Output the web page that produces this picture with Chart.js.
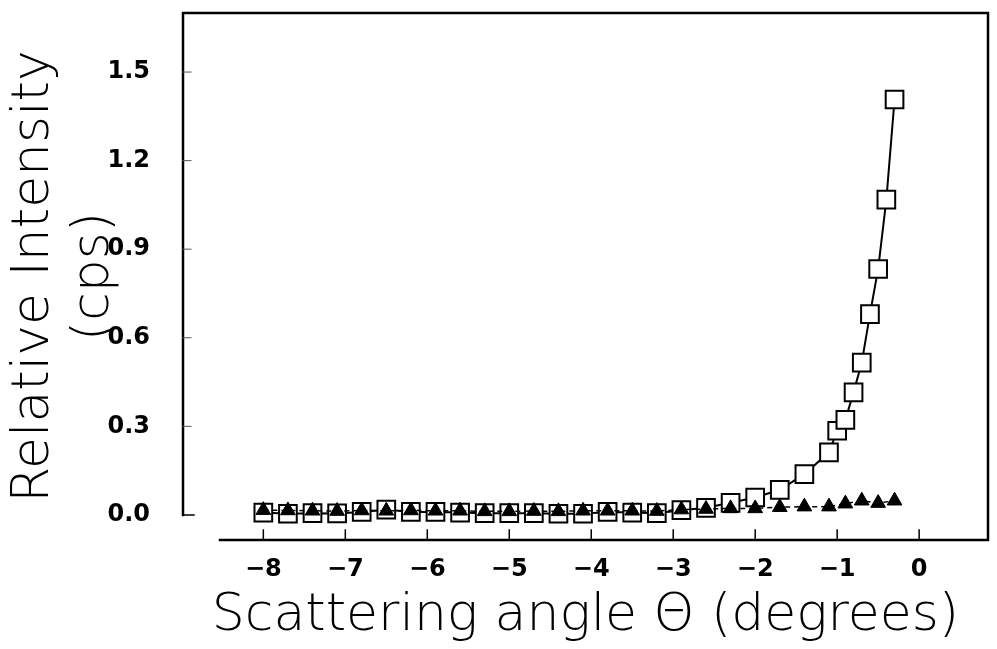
<!DOCTYPE html>
<html>
<head>
<meta charset="utf-8">
<script src="https://cdn.jsdelivr.net/npm/chart.js@4"></script>
<style>
  html, body { margin: 0; padding: 0; background: #fff; overflow: hidden; }
  #wrap { width: 997px; height: 649px; position: relative; }
  #chart { display: block; }
</style>
</head>
<body>
<div id="wrap"><canvas id="chart"></canvas></div>
<script>
'use strict';

// open squares: angle (degrees) and intensity (cps)
let squareAngles = [-8.0, -7.7, -7.4, -7.1, -6.8, -6.5, -6.2, -5.9, -5.6, -5.3, -5.0, -4.7,
    -4.4, -4.1, -3.8, -3.5, -3.2, -2.9, -2.6, -2.3, -2.0, -1.7, -1.4, -1.1,
    -1.0, -0.9, -0.8, -0.7, -0.6, -0.5, -0.4, -0.3];
let squareCounts = [0.008, 0.004, 0.006, 0.005, 0.010, 0.018, 0.010, 0.010, 0.008, 0.006, 0.006, 0.006,
    0.004, 0.004, 0.010, 0.008, 0.006, 0.016, 0.024, 0.041, 0.059, 0.085, 0.138, 0.212,
    0.285, 0.322, 0.415, 0.516, 0.680, 0.833, 1.068, 1.407];

// filled triangles
let triangleAngles = [-8.0, -7.7, -7.4, -7.1, -6.8, -6.5, -6.2, -5.9, -5.6, -5.3, -5.0, -4.7,
    -4.4, -4.1, -3.8, -3.5, -3.2, -2.9, -2.6, -2.3, -2.0, -1.7, -1.4, -1.1,
    -0.9, -0.7, -0.5, -0.3];
let triangleCounts = [0.016, 0.015, 0.014, 0.013, 0.015, 0.014, 0.015, 0.014, 0.014, 0.012, 0.012, 0.013,
    0.012, 0.014, 0.014, 0.014, 0.013, 0.018, 0.020, 0.022, 0.022, 0.026, 0.028, 0.028,
    0.038, 0.048, 0.040, 0.048];

let xTicks = [-8, -7, -6, -5, -4, -3, -2, -1, 0];
let yTicks = [0.0, 0.3, 0.6, 0.9, 1.2, 1.5];

function toPoints(xs, ys) {
    return xs.map((x, i) => ({ x: x, y: ys[i] }));
}

// frame: top/right box, left axis stopping at zero, detached bottom axis
const framePlugin = {
    id: 'frame',
    afterDraw(chart) {
        let ctx = chart.ctx;
        let a = chart.chartArea;
        let xs = chart.scales.x;
        let ys = chart.scales.y;
        let zeroY = ys.getPixelForValue(0);
        ctx.save();
        ctx.strokeStyle = '#000';
        ctx.lineCap = 'square';
        ctx.lineWidth = 2.5;
        ctx.beginPath();
        ctx.moveTo(a.left, zeroY);
        ctx.lineTo(a.left, a.top);
        ctx.lineTo(a.right, a.top);
        ctx.lineTo(a.right, a.bottom);
        ctx.lineTo(a.left + 37, a.bottom);
        ctx.stroke();

        ctx.lineWidth = 1.5;
        ctx.beginPath();
        ctx.moveTo(a.left, zeroY);
        ctx.lineTo(a.left + 11, zeroY);
        xTicks.forEach(t => {
            let px = xs.getPixelForValue(t);
            ctx.moveTo(px, a.bottom);
            ctx.lineTo(px, a.bottom - 10);
        });
        ctx.stroke();

        ctx.lineWidth = 1;
        ctx.strokeStyle = '#555';
        ctx.beginPath();
        yTicks.slice(1).forEach(t => {
            let py = ys.getPixelForValue(t);
            ctx.moveTo(a.left, py);
            ctx.lineTo(a.left + 8, py);
        });
        ctx.stroke();
        ctx.restore();
    }
};

let tickFont = { family: 'DejaVu Sans', size: 24, weight: 'bold' };
let titleFont = { family: 'DejaVu Sans', size: 52, weight: '200', lineHeight: 1.15 };

let ctx = document.getElementById('chart').getContext('2d');
new Chart(ctx, {
    type: 'scatter',
    data: {
        datasets: [
            {
                label: 'triangles',
                data: toPoints(triangleAngles, triangleCounts),
                showLine: true,
                borderColor: '#000',
                borderWidth: 1.5,
                borderDash: [5, 4],
                backgroundColor: '#000',
                pointStyle: 'triangle',
                pointRadius: 8.5,
                pointBorderWidth: 1,
                order: 1
            },
            {
                label: 'squares',
                data: toPoints(squareAngles, squareCounts),
                showLine: true,
                borderColor: '#000',
                borderWidth: 2,
                backgroundColor: '#fff',
                pointStyle: 'rect',
                pointRadius: 12.5,
                pointBorderWidth: 2,
                order: 2
            }
        ]
    },
    options: {
        responsive: true,
        maintainAspectRatio: false,
        animation: false,
        layout: {
            autoPadding: false,
            padding: { top: 13, right: 9, left: 0, bottom: 0 }
        },
        plugins: {
            legend: { display: false },
            tooltip: { enabled: false }
        },
        scales: {
            x: {
                type: 'linear',
                min: -8.98,
                max: 0.84,
                afterFit(scale) {
                    scale.height = 109;
                    scale.paddingLeft = 0;
                    scale.paddingRight = 0;
                },
                afterBuildTicks(scale) { scale.ticks = xTicks.map(v => ({ value: v })); },
                grid: { display: false, drawTicks: false },
                border: { display: false },
                ticks: {
                    color: '#000',
                    font: tickFont,
                    padding: 15,
                    maxRotation: 0,
                    callback: v => (v < 0 ? '\u2212' + Math.abs(v) : String(v))
                },
                title: {
                    display: true,
                    text: 'Scattering angle \u0398 (degrees)',
                    color: '#000',
                    font: titleFont,
                    padding: { top: 0, bottom: 3 }
                }
            },
            y: {
                min: -0.085,
                max: 1.70,
                afterFit(scale) {
                    scale.width = 183;
                    scale.paddingTop = 0;
                    scale.paddingBottom = 0;
                },
                afterBuildTicks(scale) { scale.ticks = yTicks.map(v => ({ value: v })); },
                grid: { display: false, drawTicks: false },
                border: { display: false },
                ticks: {
                    color: '#000',
                    font: tickFont,
                    padding: 33,
                    callback: v => Number(v).toFixed(1)
                },
                title: {
                    display: true,
                    text: ['Relative Intensity', '(cps)'],
                    color: '#000',
                    font: titleFont,
                    padding: { top: 5, bottom: 0 }
                }
            }
        }
    },
    plugins: [framePlugin]
});
</script>
</body>
</html>
